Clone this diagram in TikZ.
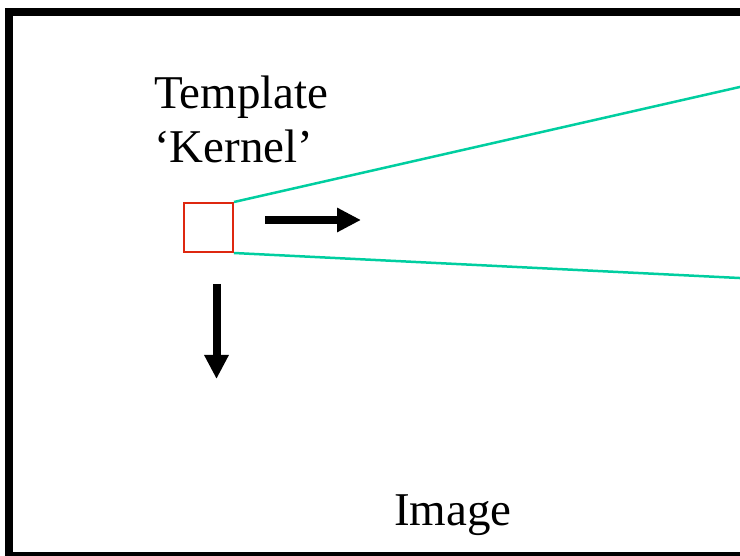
\documentclass[tikz,border=0pt]{standalone}
\usepackage{fontspec}
\setmainfont{Liberation Serif}
\usetikzlibrary{arrows.meta}
\definecolor{kred}{RGB}{222,40,16}
\definecolor{kcyan}{RGB}{0,206,160}
\tikzset{
  lbl/.style={font=\fontsize{47}{54}\selectfont, inner sep=0pt, anchor=base west, align=left},
  bigarrow/.style={line width=8pt, -{Triangle[width=23pt,length=24pt]}},
  ray/.style={kcyan, line width=2.5pt},
  kernelbox/.style={draw=kred, line width=2pt, minimum size=49pt, inner sep=0pt}
}
\begin{document}
\begin{tikzpicture}[x=1pt,y=-1pt]
\useasboundingbox (0,0) rectangle (740,556);
\clip (0,0) rectangle (740,556);
\draw[line width=8pt] (900,12) -- (9,12) -- (9,556) -- (900,556);
\node[kernelbox] (kernel) at (208.5,227.5) {};
\coordinate (rt) at (800,73.3);
\coordinate (rb) at (800,281);
\draw[ray] (kernel.north east) -- (rt);
\draw[ray] (kernel.south east) -- (rb);
\coordinate (ra) at (265,220);
\coordinate (rz) at (361,220);
\draw[bigarrow] (ra) -- (rz);
\coordinate (da) at (216.5,284);
\coordinate (dz) at (216.5,379);
\draw[bigarrow] (da) -- (dz);
\node[lbl] (tmpl) at (154,163) {Template\\‘Kernel’};
\node[lbl] (img) at (394,525) {Image};
\end{tikzpicture}
\end{document}
